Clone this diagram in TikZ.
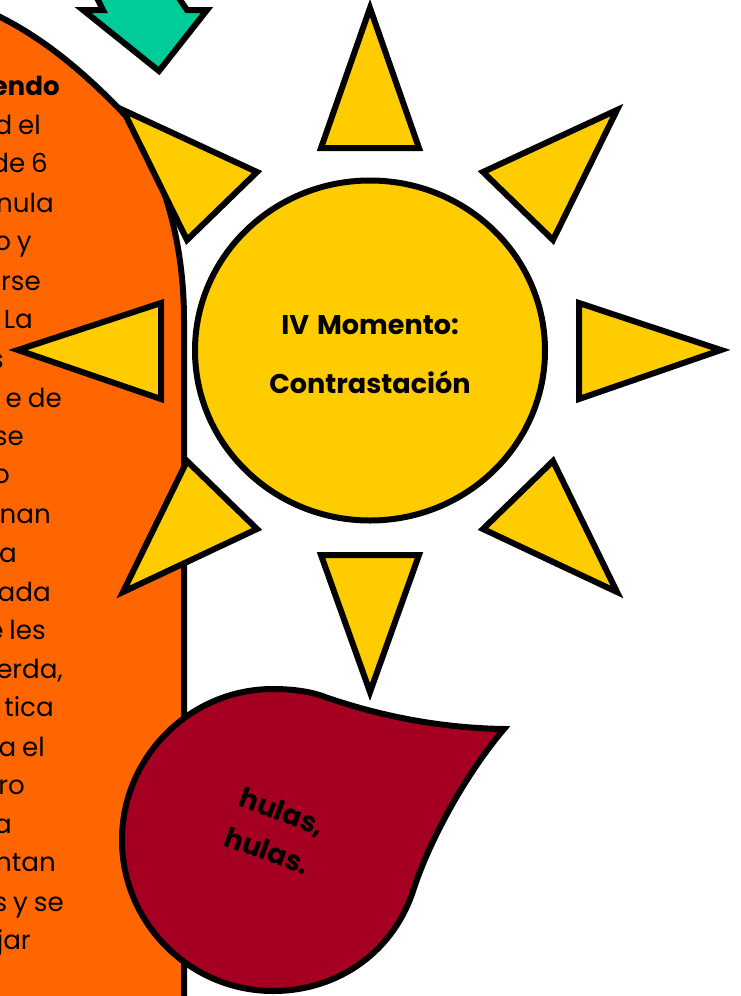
\documentclass[tikz,border=0pt]{standalone}
\usepackage{fontspec}
\setmainfont[WordSpace=0.85]{Poppins}
\definecolor{orangeC}{HTML}{FF6600}
\definecolor{sunC}{HTML}{FFCC00}
\definecolor{tealC}{HTML}{00CC99}
\definecolor{dropC}{HTML}{A50021}
\tikzset{
  shapeline/.style={draw=black,line width=4.5pt,miter limit=20,line join=miter},
  ray/.style={shapeline,fill=sunC},
  frag/.style={anchor=base east,inner sep=0pt,font=\fontsize{19.6}{19.6}\selectfont},
  fragb/.style={frag,font=\fontsize{19.6}{19.6}\selectfont\bfseries},
  title/.style={anchor=base,inner sep=0pt,font=\fontsize{20.3}{20.3}\selectfont\bfseries},
  hula/.style={anchor=base,inner sep=0pt,rotate=-20,font=\fontsize{20.8}{20.8}\selectfont\bfseries}
}
\begin{document}
\begin{tikzpicture}[x=0.75pt,y=-0.75pt]
\useasboundingbox (0,0) rectangle (740,996);
% orange panel
\path[shapeline,fill=orangeC] (-20,8) .. controls (40,32) and (90,78) .. (127,117)
  .. controls (160,165) and (184,235) .. (184,320) -- (184,1010) -- (-20,1010) -- cycle;
% panel text
\node[fragb] (t1) at (60,95) {endo};
\node[frag] (t2) at (41,134) {d el};
\node[frag] (t3) at (48,172) {de 6};
\node[frag] (t4) at (54,212) {nula};
\node[frag] (t5) at (32,250) {o y};
\node[frag] (t6) at (41,290) {rse};
\node[frag] (t7) at (33,328) {La};
\node[frag] (t8) at (4,368) {s};
\node[frag] (t9) at (62,407) {e de};
\node[frag] (t10) at (24,445) {se};
\node[frag] (t11) at (10,483) {o};
\node[frag] (t12) at (51,523) {nan};
\node[frag] (t13) at (17,562) {a};
\node[frag] (t14) at (51,601) {ada};
\node[frag] (t15) at (46,639) {e les};
\node[frag] (t16) at (63,678) {erda,};
\node[frag] (t17) at (54,716) {tica};
\node[frag] (t18) at (45,756) {a el};
\node[frag] (t19) at (25,794) {ro};
\node[frag] (t20) at (12,833) {a};
\node[frag] (t21) at (56,871) {ntan};
\node[frag] (t22) at (64,911) {s y se};
\node[frag] (t23) at (31,949) {jar};
% teal arrow
\path[shapeline,fill=tealC] (159,71) -- (83,10) -- (103,10) -- (92,-12) -- (172,-12) -- (187,10) -- (207,10) -- cycle;
% sun rays
\path[ray] (370,8) -- (419,148) -- (321,148) -- cycle;
\path[ray] (370,692) -- (419,555) -- (321,555) -- cycle;
\path[ray] (18,350) -- (161,303) -- (161,399) -- cycle;
\path[ray] (721,350) -- (579,303) -- (579,399) -- cycle;
\path[ray] (123,110) -- (257,172) -- (187,240) -- cycle;
\path[ray] (617,110) -- (483,172) -- (553,240) -- cycle;
\path[ray] (123,592) -- (257,529) -- (187,461) -- cycle;
\path[ray] (617,592) -- (483,529) -- (553,461) -- cycle;
% sun disc
\path[ray] (370,350.5) ellipse [x radius=175,y radius=170];
\node[title] (m1) at (370,334) {IV\hspace{.12em} Momento:};
\node[title] (m2) at (370,393) {Contrastación};
% drop
\path[shapeline,fill=dropC] (504,729) .. controls (440,728) and (380,716) .. (325,697)
  .. controls (310,691) and (290,689) .. (273,689)
  .. controls (190,689) and (122,757) .. (122,840)
  .. controls (122,923) and (190,991) .. (273,991)
  .. controls (340,991) and (395,950) .. (414,888)
  .. controls (430,840) and (465,775) .. (504,729) -- cycle;
\node[hula] (h1) at (279,821) {hulas,};
\node[hula] (h2) at (264,860) {hulas.};
\end{tikzpicture}
\end{document}
